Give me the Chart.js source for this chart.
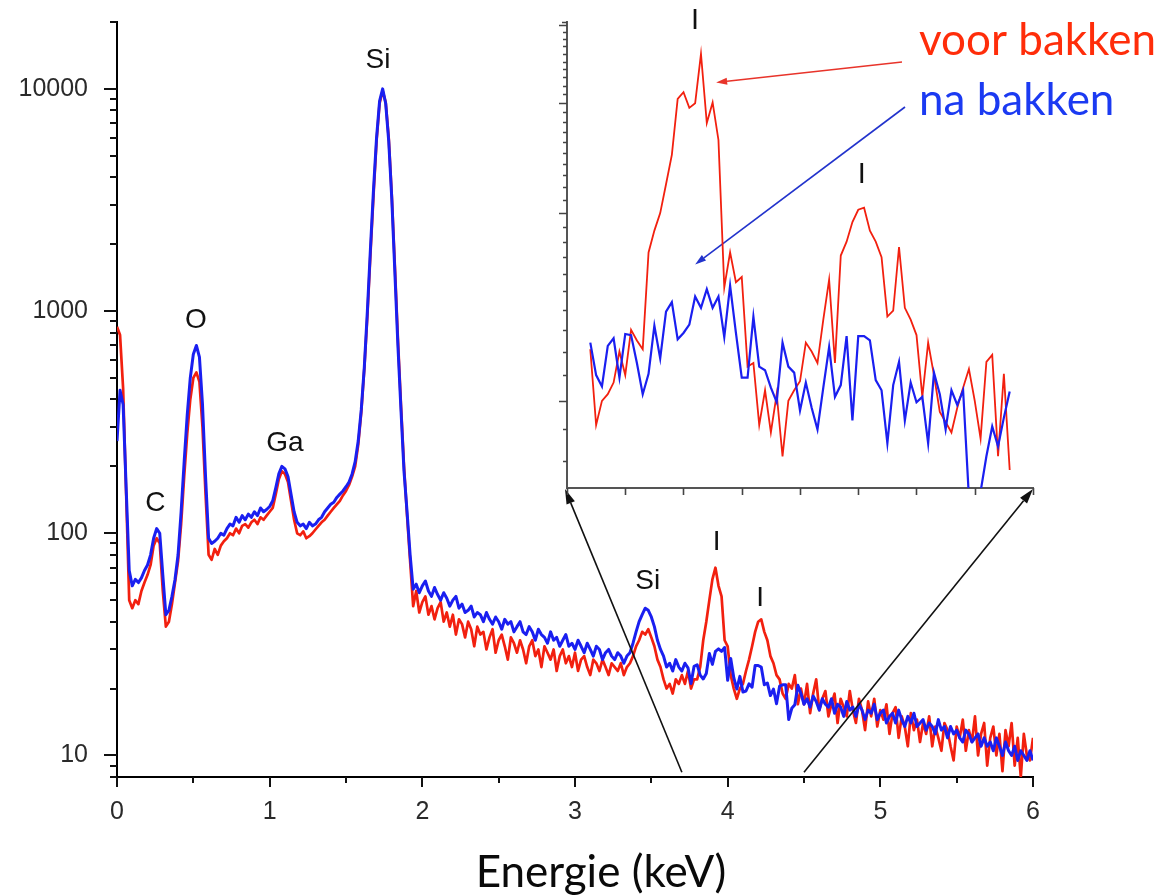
<!DOCTYPE html>
<html>
<head>
<meta charset="utf-8">
<script src="https://cdn.jsdelivr.net/npm/chart.js@4.4.1/dist/chart.umd.min.js"></script>
<style>
html,body{margin:0;padding:0;background:#fff;}
#wrap{position:relative;width:1158px;height:896px;overflow:hidden;}
#main{position:absolute;left:0;top:0;}
#inset{position:absolute;left:527px;top:0;}
</style>
</head>
<body>
<div id="wrap">
<canvas id="main" width="1158" height="896"></canvas>
<canvas id="inset" width="520" height="510"></canvas>
</div>
<script>
// ---------------- DATA ----------------
// Main spectrum: channels every 0.02 keV from 0 to 6 keV (counts, log scale)
const ENERGY_STEP = 0.02;
const RED_VOOR = [
  850, 780, 450, 150, 50, 46, 50, 48, 55, 60,
  65, 72, 88, 95, 90, 55, 38, 40, 48, 60,
  75, 110, 180, 280, 400, 500, 530, 480, 300, 150,
  80, 76, 85, 80, 88, 92, 95, 100, 98, 105,
  100, 108, 110, 106, 112, 115, 110, 118, 115, 120,
  125, 130, 150, 175, 190, 185, 170, 140, 115, 100,
  98, 102, 95, 97, 100, 104, 108, 112, 115, 120,
  125, 130, 135, 140, 148, 155, 165, 180, 200, 250,
  350, 550, 950, 1800, 3300, 5800, 8600, 9800, 8700, 6000,
  3300, 1600, 750, 380, 200, 120, 75, 47, 55, 44,
  49, 52, 43, 47, 41, 46, 49, 40, 44, 38,
  43, 35, 41, 39, 34, 40, 37, 31, 38, 35,
  36, 30, 34, 37, 29, 33, 35, 31, 27, 34,
  32, 29, 33, 30, 26, 31, 33, 28, 30, 25,
  31, 29, 27, 30, 24, 28, 30, 26, 28, 25,
  29, 24, 27, 28, 25, 23, 27, 26, 24, 27,
  25, 23, 26, 25, 24, 26, 23, 25, 26, 28,
  31, 33, 36, 35, 37, 34, 31, 27, 25, 22,
  20, 21, 19, 22, 21, 23, 21, 24, 20, 22,
  22, 25, 33, 40, 50, 62, 70, 58, 52, 33,
  31, 23, 20, 18, 20, 21, 24, 27, 31, 36,
  40, 41, 36, 33, 28, 26, 23, 22, 19, 18,
  21, 20, 23, 17, 20, 17, 21, 15.5, 19, 22,
  16, 18, 19.5, 15, 17, 19, 14, 18, 16.5, 15,
  19.5, 16, 14, 18, 16, 13, 17.5, 15, 18, 13.5,
  16, 14.5, 17, 12.5, 15.5, 16.5, 12, 15, 13.5, 11,
  15.5, 13, 14.5, 11.5, 14, 12.5, 15, 11, 13.5, 12,
  10.5, 14, 13, 11, 9.5, 13.5, 12, 14.5, 10.5, 13,
  11.5, 15, 10, 12.5, 14, 9, 12, 13.5, 10, 12.5,
  8.5, 13, 11, 14, 9, 12, 8, 12.5, 10, 9.5,
  12
];
const BLUE_NA = [
  260, 440, 380, 160, 68, 58, 62, 60, 63, 68,
  72, 80, 95, 105, 100, 65, 43, 45, 52, 62,
  80, 125, 210, 340, 500, 640, 700, 620, 380, 180,
  95, 90, 92, 95, 100, 98, 105, 110, 108, 118,
  112, 120, 115, 122, 118, 125, 120, 130, 125, 128,
  132, 140, 160, 185, 200, 195, 180, 150, 125, 112,
  108, 110, 105, 112, 108, 110, 115, 118, 125, 130,
  135, 138, 145, 150, 155, 162, 170, 185, 210, 260,
  360, 560, 1000, 1900, 3500, 6000, 8800, 10000, 8600, 5800,
  3200, 1500, 700, 360, 190, 125, 80, 56, 59, 54,
  58, 61, 55, 52, 57, 53, 50, 54, 51, 47,
  50, 52, 46, 48, 44, 45, 47, 42, 44, 43,
  40, 44, 41, 39, 42, 40, 37, 41, 39, 40,
  36, 38, 40, 36, 35, 38, 36, 33, 37, 35,
  34, 32, 36, 33, 34, 31, 33, 35, 31, 32,
  30, 33, 31, 29, 32, 30, 28, 31, 30, 27,
  29, 30, 28, 27, 29, 28, 26, 28, 29, 32,
  36, 40, 43, 46, 45, 42, 38, 33, 30, 28,
  25, 26, 24, 27, 25, 24, 26, 24.8, 21.1, 25.2,
  25.6, 23, 22.1, 23.4, 28.8, 25.7, 29.4, 30.2, 29.4, 30.6,
  21.8, 27.3, 22.4, 19.9, 22.7, 19.3, 19.5, 21, 20.3, 25.4,
  25.4, 25, 20.8, 21.2, 18.6, 19.9, 17.1, 20.5, 20.8, 20.8,
  14.5, 16.3, 16.9, 20.7, 19, 17, 18, 16.5, 18.5, 17.5,
  16, 18, 17, 16.5, 18, 15.5, 17, 16.5, 15, 17.5,
  16, 16.5, 15, 17, 16, 14.5, 16, 15.5, 17, 14.5,
  15.5, 16, 14, 15, 15.5, 14, 16, 14.5, 13.5, 15,
  14, 15.5, 13.5, 14, 14.5, 13, 14, 13.5, 12.5, 14.5,
  13, 13.5, 12, 13.5, 12.5, 13, 12, 11.5, 13, 12.5,
  11.5, 12, 12.5, 11, 12, 11, 11.5, 10.5, 12, 11,
  10, 11.5, 10.5, 10, 11, 9.5, 10.5, 10, 9.5, 10.5,
  9.5
];
// Inset: zoom 3.74 .. 4.46 keV, channels every 0.01 keV
const INSET_START = 3.74;
const INSET_STEP = 0.01;
const INSET_RED = [
  24.2, 18.3, 20, 20.5, 21.4, 24, 22, 26, 25, 24.2,
  34.6, 37.5, 40, 44.5, 49.6, 61, 62.5, 59, 60, 72,
  55.8, 60.2, 52.4, 30.4, 34.6, 31, 31.6, 22.7, 23, 18.3,
  20.8, 17.8, 20.5, 16.3, 20, 20.8, 21.5, 24.8, 24, 23,
  27, 31.3, 23, 34.2, 36, 38.7, 40.5, 40.8, 37.5, 36,
  34, 27.3, 27.9, 35.3, 28.2, 27, 25.5, 20.3, 24.8, 22,
  19.2, 18.5, 17.8, 19.5, 21, 22.5, 20, 17.4, 23.1, 23.7,
  16.3, 22.1, 15.5
];
const INSET_BLUE = [
  24.8, 22, 21.1, 24.5, 25.2, 21.8, 25.6, 25.5, 23, 20.5,
  22.1, 26.4, 23.4, 27.8, 28.8, 25.1, 25.7, 26.5, 29.4, 28.2,
  30.2, 28.2, 29.4, 25.3, 30.6, 25.7, 21.8, 21.8, 27.3, 22.7,
  22.4, 21, 19.9, 24.8, 22.7, 22.2, 19.3, 21.4, 19.5, 18,
  21, 24.4, 20.3, 21.2, 25.4, 18.6, 25.4, 25.4, 25, 21.6,
  20.8, 17.1, 21.2, 23.1, 18.6, 21.4, 19.9, 20.3, 17.1, 22.2,
  20.5, 18, 20.8, 19.7, 20.8, 14, 13.5, 14.3, 16.3, 18.2,
  16.9, 18.8, 20.7
];
// Axes / ticks
const X_LABELS = [0, 1, 2, 3, 4, 5, 6];
const X_TICK_MARKS = [0, 0.5, 1, 1.5, 2, 2.5, 3, 3.5, 4, 4.5, 5, 5.5, 6];
const Y_LABELS = [10, 100, 1000, 10000];
const Y_TICK_MARKS = [8, 9, 10, 20, 30, 40, 50, 60, 70, 80, 90, 100, 200, 300, 400, 500, 600, 700, 800, 900,
  1000, 2000, 3000, 4000, 5000, 6000, 7000, 8000, 9000, 10000, 20000];
const INSET_X_TICK_MARKS = [3.7, 3.8, 3.9, 4.0, 4.1, 4.2, 4.3, 4.4, 4.5];
const INSET_Y_TICK_MARKS = [16, 18, 20, 22, 24, 26, 28, 30, 32, 34, 36, 38, 40, 42, 44, 46, 48, 50, 52, 54,
  56, 58, 60, 62, 64, 66, 68, 70, 72, 74, 76, 78, 80];
const INSET_Y_MAJOR = [20, 40, 60, 80];
// Peak annotations (energy keV, count)
const PEAK_TEXT = ['C', 'O', 'Ga', 'Si', 'Si', 'I', 'I'];
const PEAK_E = [0.251, 0.516, 1.100, 1.710, 3.477, 3.928, 4.212];
const PEAK_C = [136.6, 912, 254.7, 13510, 60.8, 90.7, 51.0];
const INSET_PEAK_TEXT = ['I', 'I'];
const INSET_PEAK_E = [3.920, 4.206];
const INSET_PEAK_C = [81.2, 46.0];
const SERIES_NAMES = ['voor bakken', 'na bakken'];
const X_TITLE = 'Energie (keV)';

// ---------------- STYLE ----------------
const RED = '#f2200f';
const BLUE = '#1a1ff0';
const RED_TEXT = '#ff2d0a';
const BLUE_TEXT = '#1b3af2';
const INSET_LEFT = 527, INSET_TOP = 0;
const SANS = "'Liberation Sans', Arial, sans-serif";

function arrow(ctx, x1, y1, x2, y2, color, lw, hl, hw) {
  const a = Math.atan2(y2 - y1, x2 - x1);
  const bx = x2 - hl * Math.cos(a), by = y2 - hl * Math.sin(a);
  ctx.strokeStyle = color; ctx.fillStyle = color; ctx.lineWidth = lw;
  ctx.beginPath(); ctx.moveTo(x1, y1); ctx.lineTo(bx, by); ctx.stroke();
  ctx.beginPath();
  ctx.moveTo(x2, y2);
  ctx.lineTo(bx + hw / 2 * Math.sin(a), by - hw / 2 * Math.cos(a));
  ctx.lineTo(bx - hw / 2 * Math.sin(a), by + hw / 2 * Math.cos(a));
  ctx.closePath(); ctx.fill();
}

// ---------------- INSET CHART ----------------
const insetDecor = {
  id: 'insetDecor',
  afterDraw(chart) {
    const {ctx, chartArea: a, scales: {x, y}} = chart;
    ctx.save();
    ctx.strokeStyle = '#444'; ctx.lineWidth = 1.6;
    ctx.beginPath();
    INSET_Y_TICK_MARKS.forEach(v => {
      const p = Math.round(y.getPixelForValue(v)) + 0.5;
      const len = INSET_Y_MAJOR.includes(v) ? 8 : 4;
      ctx.moveTo(a.left - len, p); ctx.lineTo(a.left, p);
    });
    ctx.moveTo(a.left - 5, a.top + 0.5); ctx.lineTo(a.left, a.top + 0.5);
    INSET_X_TICK_MARKS.forEach(v => {
      const p = Math.round(x.getPixelForValue(v)) + 0.5;
      ctx.moveTo(p, a.bottom); ctx.lineTo(p, a.bottom + 7);
    });
    ctx.stroke();
    ctx.fillStyle = '#111';
    ctx.font = '29px ' + SANS;
    ctx.textAlign = 'center'; ctx.textBaseline = 'middle';
    INSET_PEAK_TEXT.forEach((t, i) => {
      ctx.fillText(t, x.getPixelForValue(INSET_PEAK_E[i]), y.getPixelForValue(INSET_PEAK_C[i]));
    });
    ctx.restore();
  }
};

const hiddenScale = (extra) => Object.assign({
  grid: {display: true, drawOnChartArea: false, drawTicks: false},
  border: {display: true, color: '#555', width: 2},
  ticks: {display: false}
}, extra);

const insetChart = new Chart(document.getElementById('inset'), {
  type: 'line',
  data: {
    datasets: [
      {label: SERIES_NAMES[1], data: INSET_BLUE.map((v, i) => ({x: INSET_START + i * INSET_STEP, y: v})),
       borderColor: BLUE, borderWidth: 2.2, pointRadius: 0, tension: 0},
      {label: SERIES_NAMES[0], data: INSET_RED.map((v, i) => ({x: INSET_START + i * INSET_STEP, y: v})),
       borderColor: RED, borderWidth: 1.8, pointRadius: 0, tension: 0}
    ]
  },
  options: {
    responsive: false, animation: false, devicePixelRatio: 1,
    layout: {padding: {left: 40, right: 14, top: 22, bottom: 22}},
    plugins: {legend: {display: false}, tooltip: {enabled: false}},
    scales: {
      x: hiddenScale({type: 'linear', min: 3.7, max: 4.5,
        afterFit: s => { s.height = 0; s.paddingLeft = 0; s.paddingRight = 0; }}),
      y: hiddenScale({type: 'logarithmic', min: 14.5, max: 81,
        afterFit: s => { s.width = 0; s.paddingTop = 0; s.paddingBottom = 0; }})
    }
  },
  plugins: [insetDecor]
});

// ---------------- MAIN CHART ----------------
const mainDecor = {
  id: 'mainDecor',
  afterDraw(chart) {
    const {ctx, chartArea: a, scales: {x, y}} = chart;
    ctx.save();
    // tick marks
    ctx.strokeStyle = '#111'; ctx.lineWidth = 2;
    ctx.beginPath();
    Y_TICK_MARKS.forEach(v => {
      const p = Math.round(y.getPixelForValue(v));
      const len = Y_LABELS.includes(v) ? 13 : 7;
      ctx.moveTo(a.left - len, p); ctx.lineTo(a.left, p);
    });
    X_TICK_MARKS.forEach(v => {
      const p = Math.round(x.getPixelForValue(v));
      const len = Number.isInteger(v) ? 10 : 6;
      ctx.moveTo(p, a.bottom); ctx.lineTo(p, a.bottom + len);
    });
    ctx.stroke();
    // peak labels
    ctx.fillStyle = '#111';
    ctx.font = '28px ' + SANS;
    ctx.textAlign = 'center'; ctx.textBaseline = 'middle';
    PEAK_TEXT.forEach((t, i) => {
      ctx.fillText(t, x.getPixelForValue(PEAK_E[i]), y.getPixelForValue(PEAK_C[i]));
    });
    // axis title
    ctx.font = '44px Lato, sans-serif';
    ctx.textBaseline = 'alphabetic';
    ctx.fillStyle = '#0a0a0a';
    ctx.fillText(X_TITLE, x.getPixelForValue(3.17), a.bottom + 110);
    // legend texts
    ctx.textAlign = 'left';
    ctx.font = '44px Lato, sans-serif';
    ctx.fillStyle = RED_TEXT; ctx.fillText(SERIES_NAMES[0], 919, 55);
    ctx.fillStyle = BLUE_TEXT; ctx.fillText(SERIES_NAMES[1], 919, 115);
    // arrows
    const ix = v => INSET_LEFT + insetChart.scales.x.getPixelForValue(v);
    const iy = v => INSET_TOP + insetChart.scales.y.getPixelForValue(v);
    const ia = insetChart.chartArea;
    arrow(ctx, x.getPixelForValue(3.7), y.getPixelForValue(8.4), INSET_LEFT + ia.left - 2, INSET_TOP + ia.bottom + 1, '#111', 1.6, 15, 9);
    arrow(ctx, x.getPixelForValue(4.5), y.getPixelForValue(8.4), INSET_LEFT + ia.right, INSET_TOP + ia.bottom + 1, '#111', 1.6, 15, 9);
    arrow(ctx, 902, 62, ix(3.956), iy(64.8), '#e8342a', 1.6, 11, 7);
    arrow(ctx, 905, 107, ix(3.920), iy(33.1), '#2233cc', 1.6, 11, 7);
    ctx.restore();
  }
};

const mainChart = new Chart(document.getElementById('main'), {
  type: 'line',
  data: {
    datasets: [
      {label: SERIES_NAMES[1], data: BLUE_NA.map((v, i) => ({x: i * ENERGY_STEP, y: v})),
       borderColor: BLUE, borderWidth: 3, pointRadius: 0, tension: 0, borderJoinStyle: 'round'},
      {label: SERIES_NAMES[0], data: RED_VOOR.map((v, i) => ({x: i * ENERGY_STEP, y: v})),
       borderColor: RED, borderWidth: 2.7, pointRadius: 0, tension: 0, borderJoinStyle: 'round'}
    ]
  },
  options: {
    responsive: false, animation: false, devicePixelRatio: 1,
    layout: {padding: {left: 0, right: 125, top: 22, bottom: 0}},
    plugins: {legend: {display: false}, tooltip: {enabled: false}},
    scales: {
      x: {
        type: 'linear', min: 0, max: 6, position: 'bottom',
        afterBuildTicks: s => { s.ticks = X_LABELS.map(v => ({value: v})); },
        afterFit: s => { s.height = 119; s.paddingLeft = 0; s.paddingRight = 0; },
        grid: {display: true, drawOnChartArea: false, drawTicks: false},
        border: {display: true, color: '#000', width: 2},
        ticks: {padding: 20, color: '#2a2a2a', font: {family: SANS, size: 25}, maxRotation: 0, autoSkip: false,
                callback: v => String(v)}
      },
      y: {
        type: 'logarithmic', min: 8, max: 20000,
        afterBuildTicks: s => { s.ticks = Y_LABELS.map(v => ({value: v})); },
        afterFit: s => { s.width = 117; s.paddingTop = 0; s.paddingBottom = 0; },
        grid: {display: true, drawOnChartArea: false, drawTicks: false},
        border: {display: true, color: '#000', width: 2},
        ticks: {padding: 29, color: '#2a2a2a', font: {family: SANS, size: 25}, autoSkip: false,
                callback: v => String(v)}
      }
    }
  },
  plugins: [mainDecor]
});
</script>
</body>
</html>
